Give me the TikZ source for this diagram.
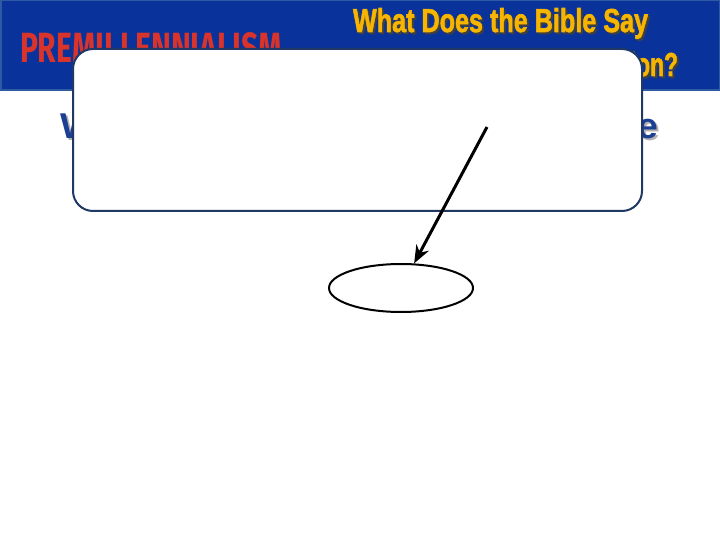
\documentclass[tikz,border=0pt]{standalone}
\usepackage{fontspec}
\setmainfont{Liberation Sans}
\newfontfamily\headfont{Fira Sans}
\newfontfamily\impactfont[FakeBold=2]{Liberation Sans Bold}
\usetikzlibrary{arrows.meta,shapes.geometric}
\definecolor{bannerblue}{HTML}{0A329B}
\definecolor{banneredge}{HTML}{2D5AA0}
\definecolor{redtxt}{HTML}{D9342B}
\definecolor{yeltxt}{HTML}{F7B500}
\definecolor{bluetxt}{HTML}{1C3F94}
\definecolor{boxedge}{HTML}{1F3864}
\tikzset{
  txt/.style={inner sep=0pt, outer sep=0pt},
  roundbox/.style={draw=boxedge, line width=2pt, fill=white, rounded corners=20pt},
  oval/.style={ellipse, draw=black, line width=2pt, minimum width=144pt, minimum height=48pt, inner sep=0pt},
  pointer/.style={-{Stealth[length=18pt,width=14pt]}, line width=3pt, black}
}
\begin{document}
\begin{tikzpicture}[x=1pt,y=-1pt]
\useasboundingbox (0,0) rectangle (720,540);
\fill[white] (0,0) rectangle (720,540);
% banner
\draw[fill=bannerblue, draw=banneredge, line width=1.5pt] (0.75,0.75) rectangle (719.25,90);
\node[txt, anchor=north west, text=redtxt] (prem) at (20,33)
  {\resizebox{262pt}{30pt}{\headfont\bfseries PREMILLENNIALISM}};
% yellow title with shadow
\node[txt, anchor=north west, text=black!75] at (355,10)
  {\resizebox{295pt}{24pt}{\impactfont What Does the Bible Say}};
\node[txt, anchor=north west, text=yeltxt] (t1) at (353,8)
  {\resizebox{295pt}{24pt}{\impactfont What Does the Bible Say}};
\node[txt, anchor=north east, text=black!75] at (680,54)
  {\resizebox{!}{24pt}{\scalebox{0.69}[1]{\fontsize{33}{33}\impactfont About the Tribulation?}}};
\node[txt, anchor=north east, text=yeltxt] (t2) at (678,52)
  {\resizebox{!}{24pt}{\scalebox{0.69}[1]{\fontsize{33}{33}\impactfont About the Tribulation?}}};
% blue subtitle with shadow
\node[txt, anchor=north west, text=black!30] at (62,115)
  {\resizebox{598pt}{26pt}{\bfseries When Will the Rapture Take Place}};
\node[txt, anchor=north west, text=bluetxt] (sub) at (60,113)
  {\resizebox{598pt}{26pt}{\bfseries When Will the Rapture Take Place}};
% white rounded box
\node[roundbox, minimum width=569pt, minimum height=162pt, anchor=north west, inner sep=0pt] (box) at (72,48) {};
% ellipse and arrow
\node[oval] (ell) at (401,288) {};
\coordinate (start) at (487,127);
\draw[pointer] (start) -- (ell);
\end{tikzpicture}
\end{document}
